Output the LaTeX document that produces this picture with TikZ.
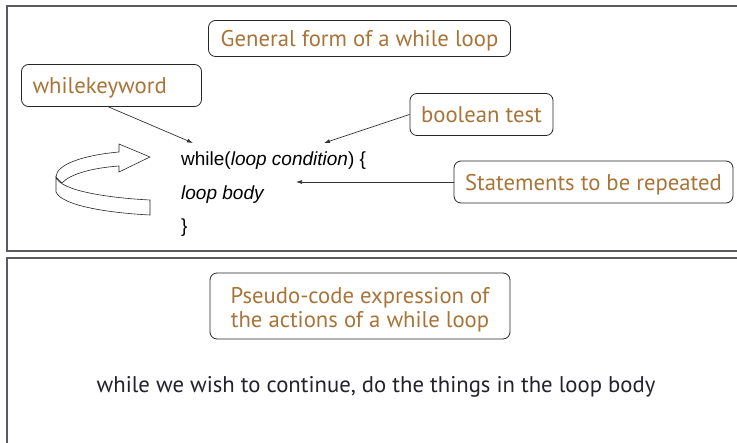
\documentclass[tikz,border=0pt]{standalone}
\usepackage{fontspec}
\setmainfont{PT Sans}
\newfontfamily\codefont{Liberation Sans}
\usetikzlibrary{arrows.meta}
\definecolor{labelbrown}{RGB}{168,116,56}
\definecolor{framegray}{RGB}{90,90,96}
\definecolor{textdark}{RGB}{34,34,40}
\tikzset{
  labelbox/.style={draw=black!85, line width=0.8pt, rounded corners=7pt, text=labelbrown,
    font=\fontsize{22.7}{25}\selectfont, inner sep=0pt, text height=19pt, text depth=2pt},
  codetext/.style={font=\codefont\fontsize{19}{21}\selectfont, text=black, anchor=base west, inner sep=0pt},
  pointer/.style={draw=black!80, line width=0.7pt, -{Latex[length=6pt,width=4pt]}},
  frameline/.style={draw=framegray, line width=1.6pt},
  loopicon/.style={draw=black!85, line width=0.6pt, fill=white},
}
\begin{document}
\begin{tikzpicture}[x=1pt,y=-1pt]
\useasboundingbox (0,0) rectangle (737,443);
\begin{scope}
\clip (0,0) rectangle (737,443);
% frames
\draw[frameline] (745,6) -- (7,6) -- (7,251) -- (745,251);
\draw[frameline] (745,258) -- (7,258) -- (7,460);
\end{scope}

% label boxes
\node[labelbox, minimum width=302pt, minimum height=36pt] (gen) at (359.5,38.5) {General form of a while loop};
\node[labelbox, minimum width=180pt, minimum height=42pt, text width=158pt, align=left, inner xsep=11pt] (kw) at (111.5,85.5) {whilekeyword};
\node[labelbox, minimum width=143pt, minimum height=42pt] (bt) at (481.5,114.5) {boolean test};
\node[labelbox, minimum width=279pt, minimum height=42pt] (st) at (593.5,182) {Statements to be repeated};
\node[labelbox, minimum width=300pt, minimum height=66pt, text height=, text depth=] (pc) at (360,306) {\raisebox{-9.5pt}[0pt][0pt]{\begin{tabular}{@{}c@{}}Pseudo-code expression of\\[-1pt]the actions of a while loop\end{tabular}}};

% code
\node[codetext] (wl) at (181,166) {while(\textit{loop condition}) \{};
\node[codetext] (lb) at (181,200) {\textit{loop body}};
\node[codetext] (cb) at (181,233) {\}};

% pointers
\coordinate (kwend) at (193,143);
\coordinate (btend) at (324,143);
\coordinate (stend) at (296,182);
\draw[pointer] ([xshift=-3pt]kw.south) -- (kwend);
\draw[pointer] (bt.west) -- (btend);
\draw[pointer] (st.west) -- (stend);

% loop icon
\draw[loopicon] (56,177) .. controls (56,164) and (85,155) .. (119,152) -- (119,144) -- (150,157) -- (119,172) -- (119,166) .. controls (92,168) and (70,174) .. (62,183) -- cycle;
\draw[loopicon] (56,177) -- (56,192) .. controls (62,206) and (110,213) .. (150,215) -- (150,200) .. controls (110,198) and (60,191) .. (56,177) -- cycle;

% pseudo-code sentence
\node[font=\fontsize{22.7}{25}\selectfont, text=textdark, inner sep=0pt, anchor=base] (ps) at (376,393) {while we wish to continue, do the things in the loop body};
\end{tikzpicture}
\end{document}
